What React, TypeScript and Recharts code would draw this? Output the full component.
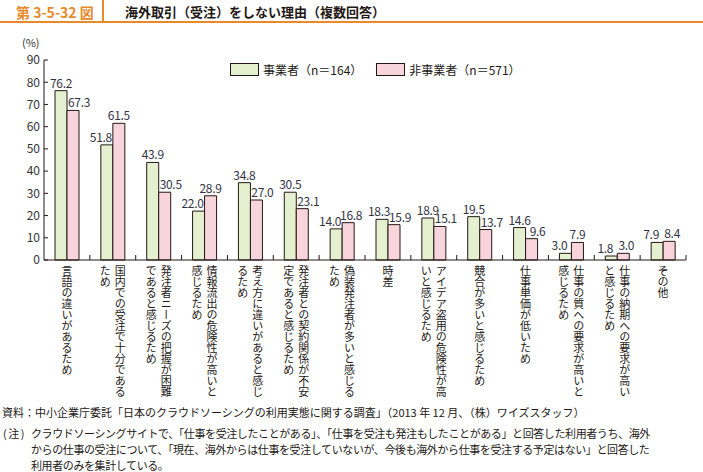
import { BarChart, Bar, XAxis, YAxis, LabelList } from 'recharts';

// 回答項目（縦書き、\n で列を分ける）
const categories = [
  '言語の違いがあるため',
  '国内での受注で十分である\nため',
  '発注者ニーズの把握が困難\nであると感じるため',
  '情報流出の危険性が高いと\n感じるため',
  '考え方に違いがあると感じ\nるため',
  '発注者との契約関係が不安\n定であると感じるため',
  '偽装発注者が多いと感じる\nため',
  '時差',
  'アイデア盗用の危険性が高\nいと感じるため',
  '競合が多いと感じるため',
  '仕事単価が低いため',
  '仕事の質への要求が高いと\n感じるため',
  '仕事の納期への要求が高い\nと感じるため',
  'その他',
];

const businessValues = [76.2, 51.8, 43.9, 22.0, 34.8, 30.5, 14.0, 18.3, 18.9, 19.5, 14.6, 3.0, 1.8, 7.9];
const nonBusinessValues = [67.3, 61.5, 30.5, 28.9, 27.0, 23.1, 16.8, 15.9, 15.1, 13.7, 9.6, 7.9, 3.0, 8.4];

const yTicks = [0, 10, 20, 30, 40, 50, 60, 70, 80, 90];
const seriesNames = ['事業者（n＝164）', '非事業者（n＝571）'];

const noteLines = [
  'クラウドソーシングサイトで、「仕事を受注したことがある」、「仕事を受注も発注もしたことがある」と回答した利用者うち、海外',
  'からの仕事の受注について、「現在、海外からは仕事を受注していないが、今後も海外から仕事を受注する予定はない」と回答した',
  '利用者のみを集計している。',
];

const GREEN = '#e5f0d0';
const PINK = '#f8d5dd';
const ORANGE = '#e8892a';
const INK = '#231815';
const FONT = '"Noto Sans CJK JP", "Noto Sans", sans-serif';

const data = categories.map((name, i) => ({
  name,
  business: businessValues[i],
  nonBusiness: nonBusinessValues[i],
}));

const BAND = (703 - 44 - 17) / categories.length;

const CategoryTick = (props: any) => {
  const { x, y, payload } = props;
  const lines = String(payload.value).split('\n');
  return (
    <g>
      <line x1={x + BAND / 2} x2={x + BAND / 2} y1={y} y2={y - 5} stroke={INK} strokeWidth={1} />
      {lines.map((line, i) => (
        <text
          key={i}
          x={x + (lines.length - 1) * 7.5 - i * 15}
          y={y + 5}
          fontSize={11}
          fill={INK}
          fontFamily={FONT}
          style={{ writingMode: 'vertical-rl' }}
        >
          {line}
        </text>
      ))}
    </g>
  );
};

const ValueTick = (props: any) => {
  const { x, y, payload } = props;
  return (
    <g>
      <line x1={x} x2={x + 4} y1={y} y2={y} stroke={INK} strokeWidth={1} />
      <text x={x - 4} y={y} dy="0.36em" textAnchor="end" fontSize={12} fill="#333" fontFamily={FONT}>
        {payload.value}
      </text>
    </g>
  );
};

// 低い方のラベルを外側へずらす
const makeLabel = (own: number[], other: number[], side: number) => (props: any) => {
  const { x, y, width, index } = props;
  const a = own[index];
  const b = other[index];
  let shift = 0;
  if (a < b) shift = side * 6;
  else if (a - b < 3) shift = side * 3;
  return (
    <text
      x={x + width / 2 + shift}
      y={y - 3}
      textAnchor="middle"
      fontSize={12}
      letterSpacing={-0.3}
      fill="#333344"
      fontFamily={FONT}
    >
      {a.toFixed(1)}
    </text>
  );
};

function App() {
  return (
    <div style={{ position: 'absolute', left: 0, top: 0, width: 703, height: 472, background: '#fff', fontFamily: FONT, color: INK }}>
      {/* Header */}
      <div style={{ position: 'absolute', left: 0, top: 21, width: 703, height: 2, background: ORANGE }} />
      <div style={{ position: 'absolute', left: 102, top: 0, width: 2, height: 22, background: ORANGE }} />
      <div style={{ position: 'absolute', left: 16, top: 3, fontSize: 14, fontWeight: 'bold', color: ORANGE, lineHeight: '18px' }}>
        第 3-5-32 図
      </div>
      <div style={{ position: 'absolute', left: 125, top: 3, fontSize: 13, fontWeight: 'bold', lineHeight: '18px' }}>
        海外取引（受注）をしない理由（複数回答）
      </div>

      <div style={{ position: 'absolute', left: 22, top: 36, fontSize: 11, color: '#333', lineHeight: '12px' }}>(%)</div>

      <BarChart
        width={703}
        height={472}
        data={data}
        margin={{ top: 60, right: 17, bottom: 62, left: 10 }}
        barSize={12}
        barGap={0}
      >
        <XAxis
          dataKey="name"
          height={150}
          interval={0}
          tickLine={false}
          tickSize={0}
          tickMargin={0}
          tick={<CategoryTick />}
          axisLine={{ stroke: INK }}
        />
        <YAxis
          width={34}
          domain={[0, 90]}
          ticks={yTicks}
          interval={0}
          tickLine={false}
          tickSize={0}
          tickMargin={0}
          tick={<ValueTick />}
          axisLine={{ stroke: INK }}
        />
        <Bar dataKey="business" fill={GREEN} stroke={INK} strokeWidth={1} isAnimationActive={false}>
          <LabelList dataKey="business" content={makeLabel(businessValues, nonBusinessValues, -1)} />
        </Bar>
        <Bar dataKey="nonBusiness" fill={PINK} stroke={INK} strokeWidth={1} isAnimationActive={false}>
          <LabelList dataKey="nonBusiness" content={makeLabel(nonBusinessValues, businessValues, 1)} />
        </Bar>
      </BarChart>

      {/* Legend */}
      <div style={{ position: 'absolute', left: 230, top: 62, display: 'flex', alignItems: 'center', fontSize: 12, lineHeight: '15px' }}>
        <span style={{ width: 27, height: 11, border: `1px solid ${INK}`, background: GREEN, display: 'inline-block' }} />
        <span style={{ marginLeft: 4, marginRight: 14 }}>{seriesNames[0]}</span>
        <span style={{ width: 27, height: 11, border: `1px solid ${INK}`, background: PINK, display: 'inline-block' }} />
        <span style={{ marginLeft: 4 }}>{seriesNames[1]}</span>
      </div>

      {/* Notes */}
      <div style={{ position: 'absolute', left: 2, top: 406, fontSize: 11, lineHeight: '13px', whiteSpace: 'pre' }}>
        資料：中小企業庁委託「日本のクラウドソーシングの利用実態に関する調査」（2013 年 12 月、（株）ワイズスタッフ）
      </div>
      <div style={{ position: 'absolute', left: 3, top: 427, fontSize: 11, lineHeight: '13px', whiteSpace: 'pre', letterSpacing: 1.5 }}>
        (注)
      </div>
      {noteLines.map((line, i) => (
        <div
          key={i}
          style={{ position: 'absolute', left: 31, top: 427 + i * 15.8, fontSize: 11, lineHeight: '13px', whiteSpace: 'pre', letterSpacing: -0.4 }}
        >
          {line}
        </div>
      ))}
    </div>
  );
}

export default App;
